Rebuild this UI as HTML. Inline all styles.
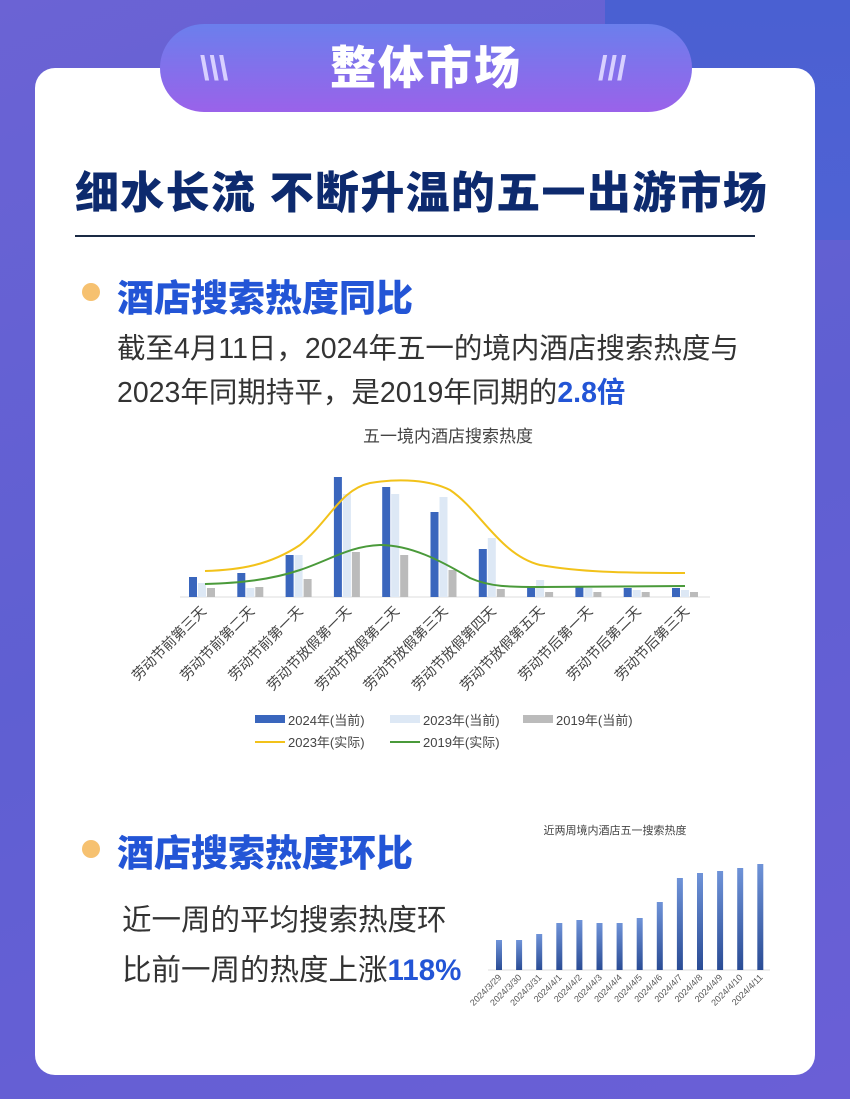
<!DOCTYPE html>
<html><head><meta charset="utf-8"><style>
*{margin:0;padding:0;box-sizing:border-box}
body{width:850px;height:1099px;overflow:hidden;position:relative;font-family:"Liberation Sans","Noto Sans CJK SC",sans-serif;background:linear-gradient(160deg,#6b63d4 0%,#5f5fd2 50%,#6a5fd6 100%)}
.rb{position:absolute;left:605px;top:0;width:245px;height:240px;background:linear-gradient(180deg,#4a60d2,#5062d4)}
.card{position:absolute;left:35px;top:68px;width:780px;height:1007px;background:#fff;border-radius:20px}
.pill{position:absolute;left:160px;top:24px;width:532px;height:88px;border-radius:44px;background:linear-gradient(180deg,#6b7fec,#9a62ea);color:#fff;font-weight:900;font-size:46px;text-align:center;line-height:88px;letter-spacing:2px}
.sl{position:absolute;top:50px;color:#d8d0ff;font-size:34px;font-weight:bold}
.t{position:absolute;left:75px;top:157px;white-space:nowrap;font-size:44px;font-weight:900;color:#0d2a6e;letter-spacing:1.3px}
.hr{position:absolute;left:75px;top:235px;width:680px;height:2px;background:#1a2a44}
.dot{position:absolute;width:18px;height:18px;border-radius:50%;background:#f6c170}
.h{position:absolute;font-size:37px;font-weight:900;color:#2355d6}
.p{position:absolute;font-size:28.5px;color:#333;line-height:44px;white-space:nowrap}
.p b{color:#2355d6}
</style></head><body>
<div class="rb"></div>
<div class="card"></div>
<div class="pill">整体市场</div>
<div class="sl" style="left:200px">\\\</div>
<div class="sl" style="left:598px">///</div>
<div class="t">细水长流 不断升温的五一出游市场</div>
<div class="hr"></div>
<div class="dot" style="left:82px;top:283px"></div>
<div class="h" style="left:117px;top:268px">酒店搜索热度同比</div>
<div class="p" style="left:117px;top:327px">截至4月11日，2024年五一的境内酒店搜索热度与<br>2023年同期持平，是2019年同期的<b>2.8倍</b></div>
<div class="dot" style="left:82px;top:840px"></div>
<div class="h" style="left:117px;top:823px">酒店搜索热度环比</div>
<div class="p" style="left:122px;top:896px;font-size:29.5px;line-height:50px">近一周的平均搜索热度环<br>比前一周的热度上涨<b>118%</b></div>
<svg style="position:absolute;left:0;top:0" width="850" height="1099" font-family="Liberation Sans,Noto Sans CJK SC,sans-serif">
<text x="448" y="442" text-anchor="middle" font-size="17" fill="#444">五一境内酒店搜索热度</text>
<line x1="180" y1="597" x2="710" y2="597" stroke="#ddd"/>
<g id="bars"></g>
<path d="M205,571 C240,570 270,565 300,545 C330,520 340,490 370,483 C400,478 430,480 450,490 C480,510 500,555 540,565 C580,572 620,573 685,573" fill="none" stroke="#f2c21a" stroke-width="2"/>
<path d="M205,584 C240,583 270,580 300,570 C330,560 350,546 380,545 C410,545 440,560 470,578 C490,587 510,587 540,587 L685,586" fill="none" stroke="#4a9a3a" stroke-width="2"/>
<g font-size="14" fill="#444" id="cats"></g>
<g font-size="13" fill="#444">
<rect x="255" y="715" width="30" height="8" fill="#3a66bd"/><text x="288" y="725">2024年(当前)</text>
<rect x="390" y="715" width="30" height="8" fill="#dde8f5"/><text x="423" y="725">2023年(当前)</text>
<rect x="523" y="715" width="30" height="8" fill="#bbb"/><text x="556" y="725">2019年(当前)</text>
<line x1="255" y1="742" x2="285" y2="742" stroke="#f2c21a" stroke-width="2"/><text x="288" y="747">2023年(实际)</text>
<line x1="390" y1="742" x2="420" y2="742" stroke="#4a9a3a" stroke-width="2"/><text x="423" y="747">2019年(实际)</text>
</g>
<text x="615" y="834" text-anchor="middle" font-size="11" fill="#444">近两周境内酒店五一搜索热度</text>
<defs><linearGradient id="bg" x1="0" y1="0" x2="0" y2="1"><stop offset="0" stop-color="#6f93d8"/><stop offset="1" stop-color="#2a4c95"/></linearGradient></defs>
<line x1="488" y1="970" x2="770" y2="970" stroke="#ddd"/>
<g id="b2"></g><g id="d2" font-size="9" fill="#555"></g>
</svg>
<script>
var ns="http://www.w3.org/2000/svg";
function el(p,t,a,tx){var e=document.createElementNS(ns,t);for(var k in a)e.setAttribute(k,a[k]);if(tx)e.textContent=tx;document.getElementById(p).appendChild(e);}
var b=[577,573,555,477,487,512,549,587,587,588,588],l=[583,588,555,494,494,497,538,580,588,590,590],g=[588,587,579,552,555,570,589,592,592,592,592];
var cats=["劳动节前第三天","劳动节前第二天","劳动节前第一天","劳动节放假第一天","劳动节放假第二天","劳动节放假第三天","劳动节放假第四天","劳动节放假第五天","劳动节后第一天","劳动节后第二天","劳动节后第三天"];
for(var i=0;i<11;i++){var x=189+i*48.3;
el("bars","rect",{x:x,y:b[i],width:8,height:597-b[i],fill:"#3a66bd"});
el("bars","rect",{x:x+9,y:l[i],width:8,height:597-l[i],fill:"#dde8f5"});
el("bars","rect",{x:x+18,y:g[i],width:8,height:597-g[i],fill:"#bbb"});
el("cats","text",{x:x+18,y:612,"text-anchor":"end",transform:"rotate(-45 "+(x+18)+" 612)"},cats[i]);}
var t2=[940,940,934,923,920,923,923,918,902,878,873,871,868,864],d=["2024/3/29","2024/3/30","2024/3/31","2024/4/1","2024/4/2","2024/4/3","2024/4/4","2024/4/5","2024/4/6","2024/4/7","2024/4/8","2024/4/9","2024/4/10","2024/4/11"];
for(var i=0;i<14;i++){var x=496+i*20.1;el("b2","rect",{x:x,y:t2[i],width:6,height:970-t2[i],fill:"url(#bg)"});
el("d2","text",{x:x+6,y:978,"text-anchor":"end",transform:"rotate(-45 "+(x+6)+" 978)"},d[i]);}
</script>
</body></html>
